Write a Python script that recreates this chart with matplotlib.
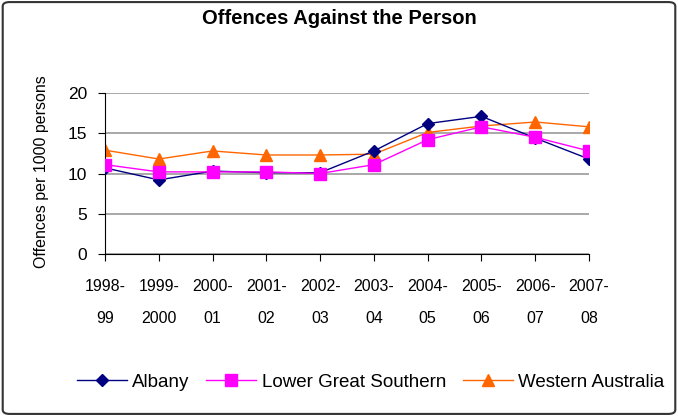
import matplotlib.pyplot as plt
from matplotlib.patches import FancyBboxPatch
from matplotlib import rcParams
rcParams['font.family'] = 'sans-serif'
rcParams['font.sans-serif'] = ['Liberation Sans', 'DejaVu Sans']

years = ['1998-\n99', '1999-\n2000', '2000-\n01', '2001-\n02', '2002-\n03',
         '2003-\n04', '2004-\n05', '2005-\n06', '2006-\n07', '2007-\n08']
albany = [10.7, 9.2, 10.3, 10.1, 10.1, 12.8, 16.2, 17.1, 14.4, 11.8]
lower_great_southern = [11.1, 10.2, 10.2, 10.2, 10.0, 11.1, 14.2, 15.8, 14.5, 12.8]
western_australia = [12.9, 11.8, 12.8, 12.3, 12.3, 12.4, 15.1, 15.9, 16.4, 15.8]

fig = plt.figure(figsize=(6.78, 4.16), dpi=100)
ax = fig.add_axes([105/678, 1-254/416, 484/678, 161/416])

x = range(len(years))
ax.plot(x, albany, color='#000080', marker='D', markersize=6, lw=1, label='Albany', zorder=3)
ax.plot(x, lower_great_southern, color='#FF00FF', marker='s', markersize=8, lw=1,
        label='Lower Great Southern', zorder=4)
ax.plot(x, western_australia, color='#FF6600', marker='^', markersize=9, lw=1,
        label='Western Australia', zorder=2)

ax.set_xlim(0, len(years)-1)
ax.set_ylim(0, 20)
ax.set_yticks([0, 5, 10, 15, 20])
ax.set_xticks(list(x))
ax.set_xticklabels(years, fontsize=11.5, linespacing=2.4)
ax.tick_params(axis='y', labelsize=12.5, length=5, direction='out', pad=8)
ax.tick_params(axis='x', length=5, direction='out', pad=13)
ax.grid(axis='y', color='#999999', lw=1.2)
ax.set_axisbelow(True)
for s in ['top', 'right']:
    ax.spines[s].set_visible(False)
ax.set_ylabel('Offences per 1000 persons', fontsize=11.5)
ax.yaxis.set_label_coords(-0.115, 0.51)

fig.text(0.5, 1-18/416, 'Offences Against the Person', ha='center', va='center',
         fontsize=14.5, fontweight='bold')

fig.legend(loc='center left', bbox_to_anchor=(77/678, 1-382/416), ncol=3, frameon=False,
           fontsize=13.5, handlelength=2.67, handletextpad=0.27, columnspacing=0.9,
           borderaxespad=0, borderpad=0)

fig.patches.append(FancyBboxPatch((0.004, 0.005), 0.992, 0.99, boxstyle='round,pad=0,rounding_size=0.01',
                                  transform=fig.transFigure, fill=False, ec='#333333', lw=1.5))

plt.savefig('out.png', dpi=100)
